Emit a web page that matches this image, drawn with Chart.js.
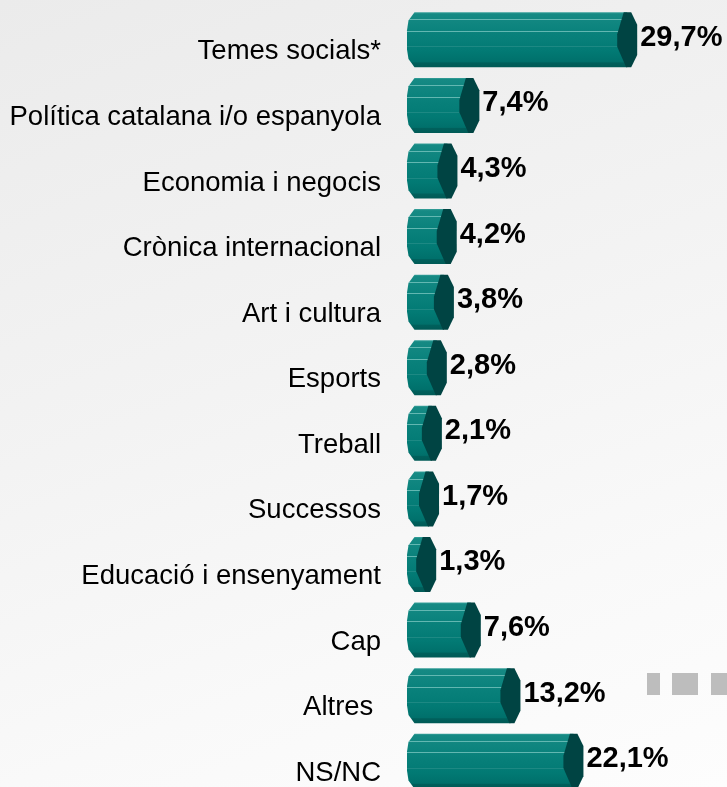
<!DOCTYPE html>
<html>
<head>
<meta charset="utf-8">
<script src="https://cdn.jsdelivr.net/npm/chart.js@4.4.1/dist/chart.umd.min.js"></script>
<style>
  html, body { margin: 0; padding: 0; overflow: hidden; }
  body {
    width: 727px; height: 787px; position: relative;
    background: linear-gradient(160deg, #ebebeb 0%, #f3f3f3 45%, #f9f9f9 75%, #fdfdfd 100%);
  }
  #chart { position: absolute; left: 0; top: 0; }
  .sq { position: absolute; top: 673px; height: 22px; background: #bdbdbd; }
</style>
</head>
<body>
<canvas id="chart" width="727" height="800"></canvas>
<div class="sq" style="left:647px;width:13px"></div>
<div class="sq" style="left:672px;width:26px"></div>
<div class="sq" style="left:711px;width:16px"></div>
<script>
const categories = ['Temes socials*', 'Política catalana i/o espanyola', 'Economia i negocis',
  'Crònica internacional', 'Art i cultura', 'Esports', 'Treball', 'Successos',
  'Educació i ensenyament', 'Cap', 'Altres ', 'NS/NC'];
const percentages = [29.7, 7.4, 4.3, 4.2, 3.8, 2.8, 2.1, 1.7, 1.3, 7.6, 13.2, 22.1];

const CAP_RX = 10;

// draw each bar as an octagonal cylinder, then its value label
const cylinderBars = {
  id: 'cylinderBars',
  afterDatasetsDraw(chart) {
    const ctx = chart.ctx;
    const meta = chart.getDatasetMeta(0);
    meta.data.forEach(function(bar, i) {
      const x0 = bar.base, x1 = bar.x, cy = bar.y, h = bar.height;
      const ry = h / 2, rx = CAP_RX;
      const top = cy - ry, bot = cy + ry;

      ctx.save();
      // body silhouette
      ctx.beginPath();
      ctx.moveTo(x0 - 0.25 * rx, top);
      ctx.lineTo(x1, top);
      ctx.lineTo(x1, bot);
      ctx.lineTo(x0 - 0.25 * rx, bot);
      ctx.lineTo(x0 - 0.85 * rx, cy + 0.7 * ry);
      ctx.lineTo(x0 - rx, cy + 0.35 * ry);
      ctx.lineTo(x0 - rx, cy - 0.35 * ry);
      ctx.lineTo(x0 - 0.85 * rx, cy - 0.7 * ry);
      ctx.closePath();
      const g = ctx.createLinearGradient(0, top, 0, bot);
      g.addColorStop(0, '#3aa19b');
      g.addColorStop(0.03, '#168a84');
      g.addColorStop(0.35, '#0a827c');
      g.addColorStop(0.7, '#027a74');
      g.addColorStop(0.9, '#00706b');
      g.addColorStop(0.92, '#00605c');
      g.addColorStop(1, '#005a56');
      ctx.fillStyle = g;
      ctx.fill();
      ctx.clip();

      // facet edges
      ctx.strokeStyle = 'rgba(120,196,190,0.8)';
      ctx.lineWidth = 1;
      [0.13, 0.34].forEach(function(f) {
        const y = Math.round(top + f * h) + 0.5;
        ctx.beginPath();
        ctx.moveTo(x0 - rx, y);
        ctx.lineTo(x1, y);
        ctx.stroke();
      });
      ctx.strokeStyle = 'rgba(90,170,165,0.3)';
      const y3 = Math.round(top + 0.62 * h) + 0.5;
      ctx.beginPath();
      ctx.moveTo(x0 - rx, y3);
      ctx.lineTo(x1, y3);
      ctx.stroke();
      ctx.restore();

      // end face
      ctx.beginPath();
      ctx.moveTo(x1 - 0.35 * rx, top);
      ctx.lineTo(x1 + 0.4 * rx, top);
      ctx.lineTo(x1 + rx, cy - 0.55 * ry);
      ctx.lineTo(x1 + rx, cy + 0.55 * ry);
      ctx.lineTo(x1 + 0.4 * rx, bot);
      ctx.lineTo(x1 - 0.1 * rx, bot);
      ctx.lineTo(x1 - rx, cy + 0.25 * ry);
      ctx.lineTo(x1 - rx, cy - 0.2 * ry);
      ctx.closePath();
      ctx.fillStyle = '#004443';
      ctx.fill();

      // value label
      ctx.fillStyle = '#000';
      ctx.font = 'bold 29px "Liberation Sans", Arial, sans-serif';
      ctx.textAlign = 'left';
      ctx.textBaseline = 'middle';
      ctx.fillText(percentages[i].toFixed(1).replace('.', ',') + '%', x1 + rx + 3, cy - 2);
    });
  }
};

const ctx = document.getElementById('chart').getContext('2d');
new Chart(ctx, {
  type: 'bar',
  data: {
    labels: categories,
    datasets: [{
      data: percentages,
      backgroundColor: 'rgba(0,0,0,0)',
      borderWidth: 0,
      barThickness: 55
    }]
  },
  options: {
    indexAxis: 'y',
    responsive: false,
    animation: false,
    layout: { padding: { top: 7, bottom: 6, left: 0, right: 0 } },
    plugins: { legend: { display: false }, tooltip: { enabled: false } },
    scales: {
      x: { display: false, min: 0, max: 43.8 },
      y: {
        grid: { display: false, drawTicks: false },
        border: { display: false },
        ticks: {
          color: '#000',
          padding: 36,
          labelOffset: 12,
          font: { family: '"Liberation Sans", Arial, sans-serif', size: 27.5 }
        },
        afterFit: function(scale) {
          scale.width = 417;
          scale.paddingTop = 0;
          scale.paddingBottom = 0;
        }
      }
    }
  },
  plugins: [cylinderBars]
});
</script>
</body>
</html>
